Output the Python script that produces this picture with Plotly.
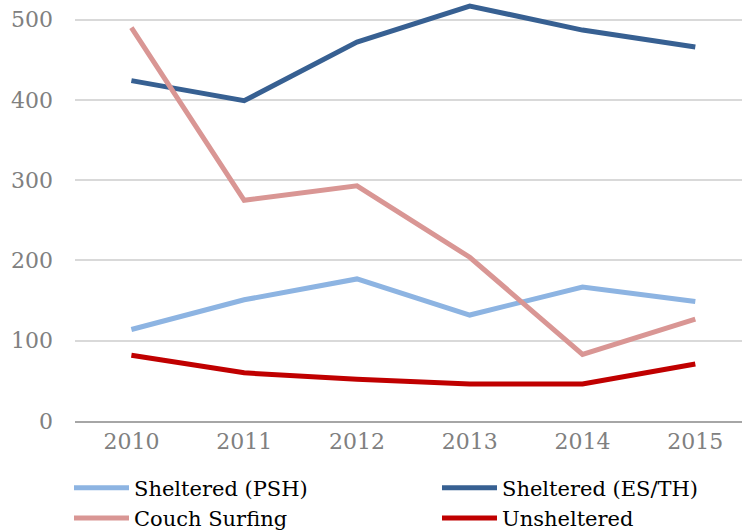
import plotly.graph_objects as go

years = ["2010", "2011", "2012", "2013", "2014", "2015"]
sheltered_psh = [114, 151, 177, 132, 167, 149]
sheltered_esth = [424, 399, 472, 517, 487, 466]
couch_surfing = [490, 275, 293, 204, 83, 127]
unsheltered = [82, 60, 52, 46, 46, 71]
y_ticks = [0, 100, 200, 300, 400, 500]

FONT = "DejaVu Serif"

fig = go.Figure()
series = [
    ("Sheltered (PSH)", sheltered_psh, "#8DB4E2"),
    ("Sheltered (ES/TH)", sheltered_esth, "#376092"),
    ("Couch Surfing", couch_surfing, "#D99694"),
    ("Unsheltered", unsheltered, "#C00000"),
]
for name, vals, color in series:
    fig.add_trace(go.Scatter(x=years, y=vals, name=name, mode="lines",
                             line=dict(color=color, width=5), cliponaxis=False))

fig.update_layout(
    width=742, height=531,
    margin=dict(l=75, r=0, t=2, b=110, autoexpand=False),
    plot_bgcolor="white", paper_bgcolor="white",
    font=dict(family=FONT, size=20, color="#000000"),
    showlegend=True,
    legend=dict(orientation="h", x=-0.009, y=-0.111, xanchor="left", yanchor="top",
                entrywidth=298, font=dict(family=FONT, size=21, color="#000000"),
                tracegroupgap=0, itemwidth=55),
    xaxis=dict(type="category", range=[-0.5, 5.414], showgrid=False,
               showline=True, linecolor="#A6A6A6", linewidth=1.5,
               ticks="", tickfont=dict(family=FONT, size=22, color="#808080"),
               ticklabelstandoff=0),
    yaxis=dict(range=[0, 522], tickvals=y_ticks, showgrid=True, gridcolor="#D9D9D9",
               gridwidth=1.5, zeroline=False, showline=False, ticks="",
               tickfont=dict(family=FONT, size=22, color="#808080"),
               ticklabelstandoff=21),
)

fig.write_html("out.html", config={"displayModeBar": False},
               post_script="document.body.style.margin='0';")
